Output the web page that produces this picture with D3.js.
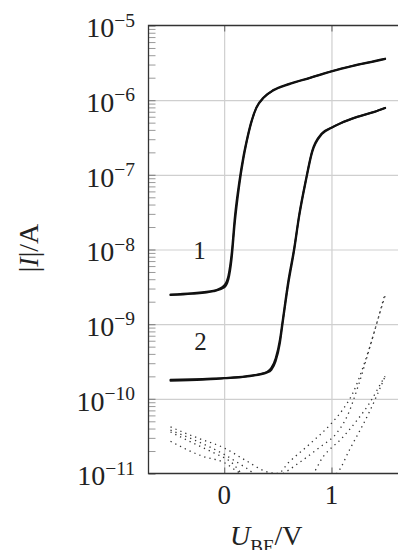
<!DOCTYPE html>
<html>
<head>
<meta charset="utf-8">
<script src="https://cdn.jsdelivr.net/npm/d3@7"></script>
<style>
body { margin: 0; background: #fff; }
text { font-family: "Liberation Serif", "DejaVu Serif", serif; fill: #222; }
</style>
</head>
<body>
<svg id="chart" width="398" height="550"></svg>
<script>
// measured curves, U_BE in V, |I| in A
var curve1_u = [-0.5, -0.3, -0.1, 0, 0.04, 0.07, 0.1, 0.14, 0.18, 0.21, 0.25, 0.3, 0.37, 0.46, 0.6, 0.8, 1.0, 1.2, 1.4, 1.5];
var curve1_a = [2.5e-9, 2.6e-9, 2.8e-9, 3.3e-9, 4.5e-9, 9e-9, 2.8e-8, 8e-8, 1.8e-7, 2.9e-7, 5e-7, 8e-7, 1.1e-6, 1.37e-6, 1.65e-6, 2.0e-6, 2.45e-6, 2.9e-6, 3.35e-6, 3.6e-6];
var curve1_b = [2.45e-9, 2.55e-9, 2.75e-9, 3.1e-9, 4.0e-9, 7.5e-9, 2.3e-8, 7e-8, 1.65e-7, 2.75e-7, 4.8e-7, 7.8e-7, 1.08e-6, 1.35e-6, 1.62e-6, 1.98e-6, 2.42e-6, 2.87e-6, 3.3e-6, 3.55e-6];

var curve2_u = [-0.5, -0.2, 0, 0.2, 0.4, 0.44, 0.48, 0.52, 0.54, 0.6, 0.65, 0.7, 0.76, 0.82, 0.91, 1.0, 1.08, 1.24, 1.4, 1.5];
var curve2_a = [1.8e-10, 1.85e-10, 1.9e-10, 2.0e-10, 2.3e-10, 2.6e-10, 3.5e-10, 6.3e-10, 1.0e-9, 4e-9, 1.0e-8, 3e-8, 8.5e-8, 2.1e-7, 3.6e-7, 4.3e-7, 4.9e-7, 6.0e-7, 7.0e-7, 7.9e-7];
var curve2_b = [1.75e-10, 1.8e-10, 1.88e-10, 1.98e-10, 2.25e-10, 2.45e-10, 3.2e-10, 5.6e-10, 9e-10, 3.6e-9, 9.2e-9, 2.8e-8, 8e-8, 2.0e-7, 3.5e-7, 4.25e-7, 4.85e-7, 5.95e-7, 6.95e-7, 7.85e-7];

// leakage (dotted)
var leak1_u = [-0.5, -0.25, 0, 0.2, 0.4, 0.5, 0.6, 0.8, 1.0, 1.1, 1.2, 1.3, 1.4, 1.5];
var leak1_i = [4.2e-11, 3.0e-11, 2.2e-11, 1.5e-11, 1.05e-11, 1.0e-11, 1.4e-11, 2.5e-11, 4.7e-11, 7e-11, 1.2e-10, 2.8e-10, 8e-10, 2.6e-9];
var leak2_u = [-0.5, -0.25, 0, 0.2, 0.4, 0.55, 0.7, 0.9, 1.05, 1.15, 1.25, 1.35, 1.45, 1.5];
var leak2_i = [3.8e-11, 2.7e-11, 1.8e-11, 1.2e-11, 8e-12, 1e-11, 1.4e-11, 2.3e-11, 3.5e-11, 6e-11, 1.5e-10, 4.5e-10, 1.4e-9, 2.4e-9];
var leak3_u = [-0.5, -0.3, -0.1, 0.07, 0.2, 0.5, 0.8, 0.925, 1.1, 1.24, 1.36, 1.48, 1.5];
var leak3_i = [3.6e-11, 2.6e-11, 1.9e-11, 1.4e-11, 9e-12, 7e-12, 9e-12, 1.7e-11, 3e-11, 5.2e-11, 9e-11, 1.8e-10, 2e-10];
var leak4_u = [-0.5, -0.2, 0, 0.13, 0.3, 0.7, 1.0, 1.05, 1.17, 1.36, 1.5];
var leak4_i = [2.7e-11, 1.7e-11, 1.4e-11, 1.05e-11, 8e-12, 6e-12, 9e-12, 1e-11, 2.1e-11, 7e-11, 2e-10];

var x_ticks = [0, 1];
var y_ticks = [1e-11, 1e-10, 1e-9, 1e-8, 1e-7, 1e-6, 1e-5];
var y_tick_exp = ["\u221211", "\u221210", "\u22129", "\u22128", "\u22127", "\u22126", "\u22125"];

var svg = d3.select("#chart");
var p_left = 148.5, p_right = 398, p_top = 25.5, p_bottom = 473.5;

var x = d3.scaleLinear().domain([-0.705, 1.62]).range([p_left, p_right]);
var y = d3.scaleLog().domain([1e-11, 1e-5]).range([p_bottom, p_top]);

var minor = [];
for (var k = -11; k < -5; k++) {
	for (var m = 2; m <= 9; m++) {
		minor.push(m * Math.pow(10, k));
	}
}

svg.append("defs").append("clipPath").attr("id", "plotclip")
	.append("rect")
	.attr("x", p_left).attr("y", p_top)
	.attr("width", p_right - p_left).attr("height", p_bottom - p_top);

function strip(g) { g.select(".domain").remove(); }

// grid
svg.append("g")
	.attr("transform", "translate(0," + p_bottom + ")")
	.call(d3.axisBottom(x).tickValues(x_ticks).tickSize(-(p_bottom - p_top)).tickFormat(""))
	.call(strip)
	.selectAll("line").attr("stroke", "#cfcfcf").attr("stroke-width", 1.2);
svg.append("g")
	.attr("transform", "translate(" + p_left + ",0)")
	.call(d3.axisLeft(y).tickValues(y_ticks.slice(1, -1)).tickSize(-(p_right - p_left)).tickFormat(""))
	.call(strip)
	.selectAll("line").attr("stroke", "#cfcfcf").attr("stroke-width", 1.2);

// minor and major ticks (inside)
svg.append("g")
	.attr("transform", "translate(" + p_left + ",0)")
	.call(d3.axisLeft(y).tickValues(minor).tickSize(-7).tickFormat(""))
	.call(strip)
	.selectAll("line").attr("stroke", "#9a9a9a").attr("stroke-width", 1);
svg.append("g")
	.attr("transform", "translate(" + p_left + ",0)")
	.call(d3.axisLeft(y).tickValues(y_ticks).tickSize(-7).tickFormat(""))
	.call(strip)
	.selectAll("line").attr("stroke", "#888").attr("stroke-width", 1.2);
svg.append("g")
	.attr("transform", "translate(0," + p_top + ")")
	.call(d3.axisTop(x).tickValues(x_ticks).tickSize(-6).tickFormat(""))
	.call(strip)
	.selectAll("line").attr("stroke", "#777").attr("stroke-width", 1.2);
svg.append("g")
	.attr("transform", "translate(0," + p_bottom + ")")
	.call(d3.axisBottom(x).tickValues(x_ticks).tickSize(-6).tickFormat(""))
	.call(strip)
	.selectAll("line").attr("stroke", "#777").attr("stroke-width", 1.2);

var plot = svg.append("g").attr("clip-path", "url(#plotclip)");

var line = d3.line()
	.x(function(d) { return x(d[0]); })
	.y(function(d) { return y(d[1]); })
	.curve(d3.curveMonotoneX);

function pairs(us, is) {
	return us.map(function(u, i) { return [u, is[i]]; });
}

var leaks = [[leak1_u, leak1_i], [leak2_u, leak2_i], [leak3_u, leak3_i], [leak4_u, leak4_i]];
leaks.forEach(function(s) {
	plot.append("path")
		.attr("d", line(pairs(s[0], s[1])))
		.attr("fill", "none")
		.attr("stroke", "#333")
		.attr("stroke-width", 1.3)
		.attr("stroke-dasharray", "1.3 4");
});

var solid = [[curve1_u, curve1_a], [curve1_u, curve1_b], [curve2_u, curve2_a], [curve2_u, curve2_b]];
solid.forEach(function(s) {
	plot.append("path")
		.attr("d", line(pairs(s[0], s[1])))
		.attr("fill", "none")
		.attr("stroke", "#111")
		.attr("stroke-width", 2)
		.attr("stroke-linecap", "round");
});

// frame
svg.append("path")
	.attr("d", "M" + p_right + "," + p_top + "H" + p_left + "V" + p_bottom + "H" + p_right)
	.attr("fill", "none")
	.attr("stroke", "#333")
	.attr("stroke-width", 1.3);

// tick labels
var ylab = svg.append("g");
y_ticks.forEach(function(v, i) {
	var t = ylab.append("text")
		.attr("x", 135)
		.attr("y", y(v) + 11.7)
		.attr("text-anchor", "end")
		.attr("font-size", 28);
	t.append("tspan").text("10");
	t.append("tspan").attr("dy", -10.5).attr("font-size", 19.5).text(y_tick_exp[i]);
});

x_ticks.forEach(function(v) {
	svg.append("text")
		.attr("x", x(v))
		.attr("y", 503.5)
		.attr("text-anchor", "middle")
		.attr("font-size", 27)
		.text(v);
});

// curve labels
svg.append("text").attr("x", x(-0.23)).attr("y", y(1e-8) + 9).attr("text-anchor", "middle").attr("font-size", 25).text("1");
svg.append("text").attr("x", x(-0.22)).attr("y", y(1e-9) + 26).attr("text-anchor", "middle").attr("font-size", 25).text("2");

// axis titles
var xt = svg.append("text")
	.attr("x", 230)
	.attr("y", 545)
	.attr("font-size", 28);
xt.append("tspan").attr("font-style", "italic").text("U");
xt.append("tspan").attr("dy", 7.5).attr("font-size", 19).text("BE");
xt.append("tspan").attr("dy", -7.5).text("/V");

var yt = svg.append("text")
	.attr("transform", "translate(38,248) rotate(-90)")
	.attr("text-anchor", "middle")
	.attr("font-size", 28);
yt.append("tspan").text("|");
yt.append("tspan").attr("font-style", "italic").text("I");
yt.append("tspan").text("|/A");
</script>
</body>
</html>
